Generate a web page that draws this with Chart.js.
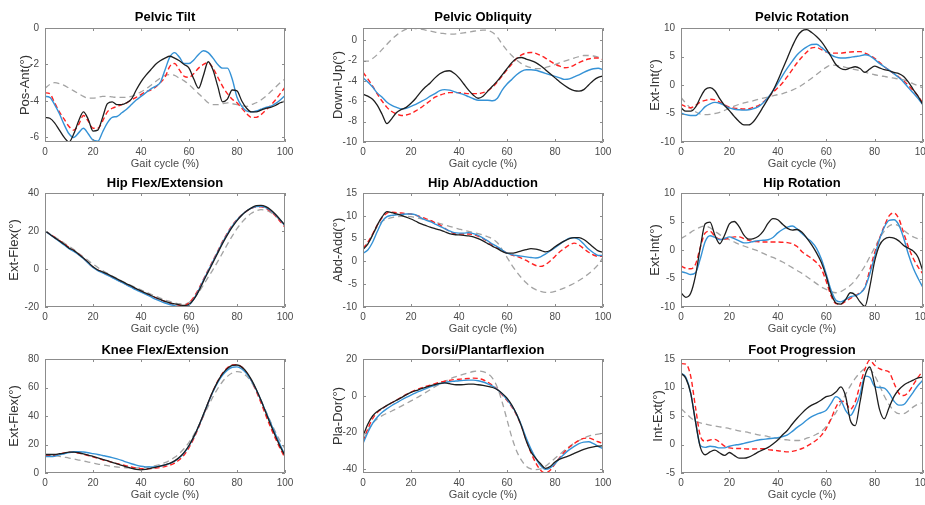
<!DOCTYPE html>
<html>
<head>
<meta charset="utf-8">
<script src="https://cdn.jsdelivr.net/npm/chart.js@4.4.1/dist/chart.umd.min.js"></script>
<style>
  html, body { margin: 0; padding: 0; background: #fff; }
  #wrap { position: relative; width: 925px; height: 505px; overflow: hidden; }
  #wrap canvas { position: absolute; }
</style>
</head>
<body>
<div id="wrap"></div>
<script>
// Gait cycle samples (%)
const gait = [0,2,4,6,8,10,12,14,16,18,20,22,24,26,28,30,32,34,36,38,40,42,44,46,48,50,
  52,54,56,58,60,62,64,66,68,70,72,74,76,78,80,82,84,86,88,90,92,94,96,98,100];
const gaitTicks = [0, 20, 40, 60, 80, 100];

// Pelvic Tilt
const tiltTicks = [-6, -4, -2, 0];
const tiltBlack = [-4.9,-4.95,-5.2,-5.6,-6.0,-6.25,-5.8,-5.1,-4.6,-5.0,
  -5.65,-5.6,-4.9,-4.15,-4.05,-4.2,-4.2,-4.1,-3.9,-3.4,
  -2.95,-2.6,-2.3,-2.0,-1.8,-1.65,-1.55,-1.65,-1.8,-2.0,
  -2.2,-2.8,-3.3,-2.6,-1.85,-2.3,-3.2,-4.05,-3.9,-3.4,
  -3.45,-4.0,-4.4,-4.6,-4.6,-4.5,-4.4,-4.35,-4.25,-4.1,
  -4.0];
const tiltBlue = [-3.75,-3.8,-4.2,-4.7,-5.3,-5.8,-6.0,-5.75,-5.5,-5.8,
  -6.15,-6.2,-5.7,-5.2,-4.9,-4.85,-4.65,-4.45,-4.2,-3.95,
  -3.75,-3.55,-3.35,-3.2,-3.0,-2.3,-1.6,-1.35,-1.6,-1.95,
  -1.95,-1.75,-1.45,-1.25,-1.35,-1.65,-2.0,-2.2,-2.2,-2.8,
  -3.8,-4.3,-4.55,-4.6,-4.55,-4.45,-4.35,-4.3,-4.15,-3.95,
  -3.7];
const tiltRed = [-3.55,-3.6,-4.1,-4.6,-5.0,-5.4,-5.6,-5.3,-4.8,-5.1,
  -5.5,-5.5,-5.1,-4.6,-4.4,-4.3,-4.2,-4.1,-3.95,-3.8,
  -3.65,-3.5,-3.4,-3.25,-3.0,-2.7,-2.1,-1.95,-2.3,-2.65,
  -2.7,-2.5,-2.2,-2.0,-1.9,-2.2,-2.7,-3.2,-3.6,-3.9,
  -4.1,-4.4,-4.7,-4.9,-4.9,-4.75,-4.5,-4.25,-3.95,-3.6,
  -3.25];
const tiltGray = [-3.3,-3.1,-3.0,-3.05,-3.15,-3.3,-3.45,-3.6,-3.75,-3.85,
  -3.85,-3.8,-3.75,-3.75,-3.78,-3.8,-3.8,-3.8,-3.75,-3.65,
  -3.5,-3.35,-3.15,-2.95,-2.75,-2.6,-2.55,-2.6,-2.75,-2.9,
  -3.1,-3.35,-3.6,-3.85,-4.1,-4.2,-4.2,-4.15,-4.1,-4.15,
  -4.2,-4.25,-4.3,-4.2,-4.1,-3.95,-3.75,-3.5,-3.25,-3.0,
  -2.8];

// Pelvic Obliquity
const oblTicks = [-10, -8, -6, -4, -2, 0];
const oblBlack = [-5.3,-5.5,-5.8,-6.4,-7.3,-8.2,-7.7,-7.1,-6.8,-6.6,
  -6.2,-5.7,-5.1,-4.6,-4.2,-3.7,-3.3,-3.05,-3.0,-3.25,
  -3.7,-4.3,-4.9,-5.4,-5.7,-5.5,-5.0,-4.5,-4.0,-3.4,
  -2.8,-2.2,-1.8,-1.7,-1.85,-2.0,-2.2,-2.5,-2.9,-3.3,
  -3.7,-4.1,-4.45,-4.75,-4.95,-5.0,-4.85,-4.4,-3.95,-3.65,
  -3.5];
const oblBlue = [-3.7,-4.1,-4.6,-5.2,-5.6,-6.1,-6.4,-6.6,-6.75,-6.7,
  -6.5,-6.3,-6.05,-5.8,-5.5,-5.25,-4.95,-4.85,-4.9,-5.05,
  -5.2,-5.35,-5.55,-5.75,-5.9,-5.9,-5.9,-5.95,-5.7,-4.9,
  -4.3,-3.85,-3.4,-3.05,-2.9,-2.9,-2.95,-3.1,-3.25,-3.4,
  -3.55,-3.7,-3.85,-3.8,-3.6,-3.4,-3.15,-2.95,-2.8,-2.75,
  -2.9];
const oblRed = [-3.15,-3.8,-4.5,-5.3,-6.0,-6.6,-7.0,-7.25,-7.4,-7.35,
  -7.2,-6.95,-6.65,-6.3,-5.95,-5.6,-5.4,-5.25,-5.15,-5.15,
  -5.15,-5.2,-5.25,-5.25,-5.25,-5.15,-4.95,-4.6,-4.1,-3.5,
  -2.9,-2.35,-1.8,-1.45,-1.25,-1.2,-1.3,-1.5,-1.75,-2.05,
  -2.35,-2.55,-2.7,-2.65,-2.45,-2.2,-2.0,-1.85,-1.75,-1.75,
  -1.9];
const oblGray = [-2.05,-2.05,-1.8,-1.4,-0.9,-0.4,0.1,0.5,0.85,1.1,
  1.2,1.15,1.1,1.0,0.9,0.8,0.7,0.65,0.6,0.6,
  0.65,0.72,0.8,0.88,0.95,1.0,0.95,0.75,0.3,-0.4,
  -1.0,-1.5,-1.95,-2.3,-2.55,-2.7,-2.8,-2.8,-2.7,-2.55,
  -2.4,-2.2,-2.05,-1.9,-1.75,-1.6,-1.5,-1.5,-1.55,-1.65,
  -1.8];

// Pelvic Rotation
const rotTicks = [-10, -5, 0, 5, 10];
const rotBlack = [-4.0,-4.6,-4.6,-3.9,-2.2,-0.8,-0.45,-1.0,-2.4,-3.6,
  -4.5,-5.5,-6.4,-7.0,-7.0,-6.4,-5.2,-3.8,-2.4,-1.0,
  0.8,2.8,4.8,6.8,8.5,9.5,9.7,9.2,8.5,7.6,
  6.4,5.0,3.6,2.9,2.7,3.0,3.2,2.9,2.2,2.8,
  3.3,3.0,2.7,2.5,2.2,2.0,1.5,0.5,-0.8,-2.0,
  -3.5];
const rotBlue = [-4.9,-5.2,-5.35,-5.35,-4.7,-3.8,-3.3,-3.05,-3.2,-3.6,
  -4.0,-4.25,-4.35,-4.4,-4.35,-4.15,-3.8,-3.1,-2.2,-1.0,
  0.3,1.7,3.0,4.2,5.3,6.1,6.7,7.1,7.15,6.6,
  5.9,5.3,4.9,4.75,4.75,4.85,5.0,5.1,5.3,5.1,
  4.5,3.8,3.2,2.6,2.0,1.3,0.5,-0.5,-1.4,-2.4,
  -3.5];
const rotRed = [-3.4,-3.8,-4.0,-3.6,-3.0,-2.7,-2.5,-2.6,-3.0,-3.5,
  -3.9,-4.05,-4.15,-4.2,-4.15,-3.9,-3.6,-3.0,-2.2,-1.3,
  -0.5,0.4,1.5,2.7,3.9,4.9,5.8,6.5,6.6,6.2,
  5.8,5.6,5.6,5.6,5.7,5.8,5.85,5.85,5.6,5.2,
  4.7,4.0,3.2,2.6,2.0,1.4,0.7,-0.1,-1.0,-2.0,
  -3.2];
const rotGray = [-2.2,-3.2,-4.1,-4.7,-5.1,-5.2,-5.15,-5.0,-4.8,-4.45,
  -4.05,-3.7,-3.4,-3.15,-2.95,-2.75,-2.5,-2.3,-2.1,-1.9,
  -1.7,-1.5,-1.25,-0.9,-0.5,0.0,0.6,1.2,1.85,2.5,
  3.1,3.5,3.45,3.3,3.1,2.9,2.7,2.5,2.25,2.0,
  1.8,1.65,1.5,1.35,1.2,1.05,0.9,0.6,0.2,-0.15,
  -0.5];

// Hip Flex/Extension
const hipFlexTicks = [-20, 0, 20, 40];
const hipFlexBlack = [20,18.3,16.5,14.8,13,11,9.8,7.8,5.8,3.5,
  1.2,-0.5,-1.5,-2.6,-3.9,-5.2,-6.5,-7.8,-9.0,-10.3,
  -11.5,-12.7,-13.8,-15.0,-16.0,-17.0,-17.8,-18.4,-18.9,-19.2,
  -18.7,-16.0,-11.8,-6.5,-1.5,3.5,8.5,13.5,18.0,22.0,
  25.5,28.3,30.5,32.2,33.3,33.5,32.8,31.2,28.8,26.0,
  23.0];
const hipFlexBlue = [20,18.2,16.3,14.5,12.6,10.7,9.3,7.5,5.5,3.0,
  0.8,-0.8,-2.0,-3.2,-4.5,-5.8,-7.1,-8.4,-9.7,-11.0,
  -12.2,-13.4,-14.6,-15.8,-16.9,-17.9,-18.7,-19.3,-19.8,-20.0,
  -19.0,-15.8,-11.2,-6.0,-1.0,4.0,9.0,14.0,18.5,22.5,
  25.8,28.4,30.5,32.0,32.9,33.0,32.3,30.8,28.6,25.8,
  22.8];
const hipFlexRed = [20,18.4,16.7,15.0,13.2,11.3,9.6,7.8,5.8,3.2,
  1.0,-0.6,-1.8,-3.0,-4.3,-5.6,-6.9,-8.2,-9.4,-10.6,
  -11.8,-12.9,-14.0,-15.1,-16.2,-17.1,-17.9,-18.6,-19.1,-19.3,
  -17.8,-14.8,-10.5,-5.5,-0.5,4.5,9.5,14.5,19.0,23.0,
  26.0,28.5,30.5,31.9,32.7,32.8,32.0,30.3,28.0,25.0,
  22.0];
const hipFlexGray = [20,18.5,16.9,15.3,13.7,12.0,10.2,8.3,6.4,4.5,
  2.6,0.8,-0.8,-2.3,-3.7,-5.0,-6.3,-7.5,-8.7,-9.9,
  -11.0,-12.1,-13.2,-14.3,-15.3,-16.3,-17.1,-17.8,-18.3,-18.4,
  -17.6,-15.5,-12.3,-8.5,-4.3,-0.3,4.0,8.5,13.0,17.3,
  21.2,24.5,27.2,29.3,30.6,31.2,30.9,29.8,28.0,25.6,
  23.0];

// Hip Ab/Adduction
const hipAbTicks = [-10, -5, 0, 5, 10, 15];
const hipAbBlack = [2.6,3.8,5.8,8.0,9.8,10.9,10.7,10.4,10.1,9.7,
  9.3,8.8,8.3,7.9,7.5,7.2,6.9,6.5,6.1,5.9,
  5.8,5.7,5.6,5.4,5.0,4.5,3.9,3.3,2.8,2.2,
  1.8,1.8,2.0,2.3,2.6,2.8,2.7,2.4,2.1,2.4,
  3.2,3.9,4.5,5.0,5.2,5.2,4.8,4.0,3.1,2.3,
  2.0];
const hipAbBlue = [1.8,2.5,4.2,6.6,8.8,9.8,10.1,10.2,10.3,10.4,
  10.4,10.2,9.6,9.1,8.7,8.2,7.7,7.2,6.7,6.3,
  6.2,6.2,6.3,6.1,5.7,5.1,4.5,3.8,3.2,2.5,
  1.8,1.5,1.3,1.15,1.0,0.85,0.75,1.0,1.6,2.3,
  3.0,3.8,4.5,5.1,5.2,4.8,3.8,2.7,1.9,1.3,
  1.3];
const hipAbRed = [2.8,4.2,6.0,8.0,9.6,10.6,10.8,10.7,10.6,10.5,
  10.4,10.1,9.8,9.4,9.0,8.5,8.0,7.3,6.6,6.1,
  6.0,6.0,6.0,5.9,5.5,5.0,4.3,3.6,3.0,2.4,
  1.8,1.4,1.1,0.7,0.2,-0.4,-0.9,-1.1,-0.7,0.1,
  1.1,2.1,2.9,3.6,4.0,3.6,2.8,2.0,1.4,1.1,
  1.1];
const hipAbGray = [2.9,4.0,5.8,7.7,8.8,9.3,9.6,9.8,9.9,9.9,
  9.8,9.6,9.4,9.1,8.9,8.6,8.3,8.0,7.7,7.4,
  7.1,6.8,6.6,6.3,6.1,5.8,5.4,4.9,4.1,2.6,
  0.9,-0.8,-2.3,-3.6,-4.7,-5.6,-6.2,-6.6,-6.8,-6.8,
  -6.6,-6.2,-5.8,-5.3,-4.8,-4.2,-3.5,-2.7,-1.8,-0.7,
  0.9];

// Hip Rotation
const hipRotTicks = [-10, -5, 0, 5, 10];
const hipRotBlack = [-7.5,-8.3,-7.6,-4.5,0.5,4.6,4.9,2.6,1.1,2.6,
  4.6,5.0,4.1,2.6,1.9,2.0,2.4,3.3,4.7,5.5,
  5.3,4.5,3.8,3.5,3.6,3.1,2.1,0.9,-0.5,-2.2,
  -4.6,-7.6,-9.3,-9.5,-8.7,-7.5,-7.9,-9.1,-9.9,-6.5,
  -2.0,0.8,1.9,2.2,2.1,1.6,0.8,0.3,-0.2,-1.3,
  -3.8];
const hipRotBlue = [-3.8,-4.0,-4.3,-4.0,-1.5,1.5,2.5,2.2,1.8,2.0,
  2.3,2.0,1.6,1.25,1.3,1.5,1.65,1.7,1.8,2.2,
  3.0,3.6,4.0,4.2,3.7,2.9,2.1,1.4,0.3,-1.6,
  -4.2,-7.0,-8.8,-9.1,-8.7,-8.2,-8.0,-7.6,-6.6,-4.2,
  -1.2,1.8,4.0,5.2,5.3,4.4,2.1,-0.8,-3.2,-5.0,
  -6.6];
const hipRotRed = [-2.8,-3.2,-3.3,-2.5,0.5,3.0,3.3,2.4,1.9,1.9,
  2.1,2.3,2.3,2.0,1.7,1.5,1.45,1.4,1.4,1.4,
  1.4,1.35,1.3,1.1,0.6,-0.3,-0.9,-1.5,-2.2,-3.3,
  -5.5,-8.0,-9.4,-9.5,-9.0,-8.5,-8.0,-7.5,-6.5,-3.5,
  -0.5,2.0,4.2,6.0,6.5,5.5,3.0,0.5,-1.5,-3.0,
  -4.2];
const hipRotGray = [2.0,2.5,3.1,3.6,4.0,4.2,3.9,3.3,2.7,2.2,
  1.8,1.4,1.0,0.7,0.4,0.1,-0.2,-0.6,-1.0,-1.3,
  -1.7,-2.1,-2.6,-3.1,-3.6,-4.1,-4.7,-5.3,-5.9,-6.5,
  -6.9,-7.3,-7.5,-7.3,-6.8,-6.2,-5.3,-4.1,-2.8,-1.2,
  0.4,2.0,3.3,4.2,4.5,4.2,3.5,2.8,2.3,2.0,
  2.0];

// Knee Flex/Extension
const kneeTicks = [0, 20, 40, 60, 80];
const kneeBlack = [13,13,13,13.5,14,14.6,14.6,14.2,13.5,12.6,
  11.6,10.6,9.6,8.6,7.5,6.4,5.4,4.3,3.3,2.5,
  2.2,2.6,3.3,4.0,4.8,5.7,6.8,8.5,11.0,14.5,
  19.3,25.5,32.8,41.0,49.5,57.5,64.3,69.7,73.3,75.5,
  75.8,74.3,70.8,65.5,58.8,51.0,42.5,34.0,26.0,18.5,
  12.2];
const kneeBlue = [11.6,11.6,11.8,12.7,13.5,14.3,14.9,15.0,14.7,14.2,
  13.6,13.0,12.3,11.6,10.8,9.9,8.8,7.6,6.5,5.5,
  4.7,4.3,4.2,4.4,4.9,5.6,6.7,8.3,10.7,14.2,
  19.0,25.3,32.6,40.8,49.2,57.0,63.6,68.7,72.2,74.2,
  74.5,73.0,69.8,64.8,58.5,51.0,43.0,35.0,27.3,19.8,
  12.5];
const kneeRed = [12.3,12.3,12.5,13.2,14.0,14.6,14.5,14.0,13.2,12.3,
  11.3,10.3,9.3,8.4,7.5,6.6,5.8,5.0,4.2,3.5,
  3.1,3.0,3.1,3.4,3.8,4.5,5.5,7.0,9.3,12.8,
  17.8,24.3,32.0,40.5,49.3,57.5,64.5,70.0,73.8,75.8,
  76.0,74.3,70.5,64.8,57.5,49.3,40.5,32.0,24.3,17.0,
  10.7];
const kneeGray = [12.7,12.5,12.2,11.7,11.1,10.5,9.8,9.1,8.4,7.7,
  7.0,6.3,5.7,5.1,4.6,4.2,3.9,3.7,3.6,3.6,
  3.7,4.0,4.5,5.2,6.1,7.3,8.9,11.0,13.7,17.2,
  21.5,26.8,33.0,39.8,46.8,53.5,59.3,64.2,67.8,70.2,
  71.2,70.5,68.0,63.8,58.0,51.0,43.5,36.0,29.0,22.5,
  17.0];

// Dorsi/Plantarflexion
const dorsiTicks = [-40, -20, 0, 20];
const dorsiBlack = [-22,-15.5,-11,-8.5,-6.8,-5.2,-3.8,-2.4,-1.0,0.5,
  1.8,2.8,3.7,4.6,5.4,6.1,6.7,7.0,6.6,6.1,
  6.0,6.1,6.3,6.3,6.0,5.6,5.1,4.5,3.3,1.3,
  -1.3,-5.0,-10.0,-16.5,-24.5,-30.5,-34.0,-37.0,-39.5,-38.5,
  -36.0,-34.5,-33.5,-32.5,-31.3,-30.2,-29.2,-28.4,-27.8,-27.4,
  -27.2];
const dorsiBlue = [-26,-20,-15,-11.5,-9.0,-7.0,-5.3,-3.8,-2.3,-0.9,
  0.4,1.6,2.7,3.8,4.8,5.7,6.5,7.1,7.6,7.9,
  8.2,8.4,8.5,8.5,8.2,7.5,6.5,5.2,3.4,1.0,
  -2.0,-5.5,-10.0,-16.0,-23.0,-29.0,-34.0,-38.0,-40.0,-39.2,
  -37.0,-34.0,-31.5,-29.3,-27.5,-26.0,-25.2,-25.0,-26.0,-27.5,
  -28.8];
const dorsiRed = [-25,-18,-12.5,-9.0,-7.0,-5.3,-3.8,-2.3,-0.8,0.7,
  2.0,3.2,4.2,5.0,5.8,6.6,7.3,7.9,8.4,8.8,
  9.0,9.2,9.4,9.6,9.4,8.7,7.4,5.6,3.4,0.6,
  -2.5,-6.0,-10.5,-16.5,-24.0,-31.0,-36.5,-40.5,-42.0,-40.5,
  -37.0,-33.5,-30.5,-28.0,-26.0,-24.3,-23.2,-23.0,-23.8,-25.0,
  -26.0];
const dorsiGray = [-24,-19,-15,-12.5,-10.8,-9.5,-8.3,-7.0,-5.6,-4.2,
  -2.8,-1.4,0.1,1.7,3.3,4.9,6.4,7.8,9.0,10.1,
  11.0,11.8,12.5,13.2,13.4,13.1,12.0,9.5,4.5,-3.5,
  -13.0,-22.5,-30.0,-35.0,-38.3,-39.8,-40.2,-39.8,-38.3,-36.2,
  -34.0,-31.8,-29.6,-27.6,-25.8,-24.3,-23.0,-22.0,-21.3,-20.8,
  -20.5];

// Foot Progression
const footTicks = [-5, 0, 5, 10, 15];
const footBlack = [12.5,11.6,9.0,4.0,-0.5,-1.8,-1.3,-1.0,-1.5,-1.9,
  -1.4,-1.9,-2.4,-2.4,-2.2,-1.8,-1.3,-0.9,-0.5,0.1,
  0.8,1.7,2.5,3.6,4.6,5.5,6.3,6.9,7.3,7.8,
  8.4,8.6,9.2,10.1,8.5,4.2,3.3,7.5,12.0,13.6,
  10.5,6.2,4.5,6.5,8.4,9.6,10.4,10.9,11.3,11.7,
  11.8];
const footBlue = [12.5,11.8,9.0,4.0,-0.2,-0.5,-0.3,-0.4,-0.6,-0.6,
  -0.3,-0.1,0.0,0.2,0.4,0.6,0.8,0.9,1.0,1.1,
  1.2,1.4,1.7,2.3,3.0,3.6,4.3,4.9,5.3,5.6,
  6.0,7.2,8.4,7.8,6.0,5.1,6.5,8.8,12.0,11.8,
  10.2,10.0,9.9,9.0,7.6,6.9,7.0,8.0,9.2,10.4,
  11.3];
const footRed = [14.2,14.1,12.0,6.5,1.5,0.6,0.8,0.9,0.4,-0.3,
  -0.6,-0.7,-0.7,-0.75,-0.8,-0.8,-0.75,-0.75,-0.9,-1.0,
  -1.1,-1.2,-1.3,-1.2,-1.0,-0.7,-0.3,0.2,0.8,1.6,
  2.8,4.5,6.5,7.6,7.4,6.2,7.5,10.5,13.2,14.8,
  13.9,13.3,13.0,12.7,10.8,9.0,8.6,9.2,10.5,11.8,
  13.0];
const footGray = [6.3,5.5,4.7,4.1,3.8,3.6,3.4,3.25,3.1,2.95,
  2.8,2.6,2.4,2.25,2.1,1.9,1.7,1.55,1.4,1.2,
  1.05,0.9,0.8,0.7,0.7,0.8,1.1,1.4,1.8,2.3,
  3.2,4.4,5.6,7.2,8.8,10.3,11.6,12.6,13.3,13.2,
  12.1,10.4,8.5,7.0,5.9,5.4,5.4,5.9,6.6,7.1,
  7.3];

// Line styles: black, blue, red dashed, gray dashed
const lineColors = ["#1e1e1e", "#3592d6", "#ff2222", "#a3a3a3"];
const lineDashes = [[], [], [5, 3], [6, 4]];
const lineWidths = [1.3, 1.4, 1.4, 1.3];

const panels = [
  { title: "Pelvic Tilt", ylabel: "Pos-Ant(°)", min: -6.25, max: 0, ticks: tiltTicks,
    series: [tiltBlack, tiltBlue, tiltRed, tiltGray], row: 0, col: 0, yTitleX: 25 },
  { title: "Pelvic Obliquity", ylabel: "Down-Up(°)", min: -10, max: 1.2, ticks: oblTicks,
    series: [oblBlack, oblBlue, oblRed, oblGray], row: 0, col: 1, yTitleX: 20 },
  { title: "Pelvic Rotation", ylabel: "Ext-Int(°)", min: -10, max: 10, ticks: rotTicks,
    series: [rotBlack, rotBlue, rotRed, rotGray], row: 0, col: 2, yTitleX: 19 },
  { title: "Hip Flex/Extension", ylabel: "Ext-Flex(°)", min: -20, max: 40, ticks: hipFlexTicks,
    series: [hipFlexBlack, hipFlexBlue, hipFlexRed, hipFlexGray], row: 1, col: 0, yTitleX: 14 },
  { title: "Hip Ab/Adduction", ylabel: "Abd-Add(°)", min: -10, max: 15, ticks: hipAbTicks,
    series: [hipAbBlack, hipAbBlue, hipAbRed, hipAbGray], row: 1, col: 1, yTitleX: 20 },
  { title: "Hip Rotation", ylabel: "Ext-Int(°)", min: -10, max: 10, ticks: hipRotTicks,
    series: [hipRotBlack, hipRotBlue, hipRotRed, hipRotGray], row: 1, col: 2, yTitleX: 19 },
  { title: "Knee Flex/Extension", ylabel: "Ext-Flex(°)", min: 0, max: 80, ticks: kneeTicks,
    series: [kneeBlack, kneeBlue, kneeRed, kneeGray], row: 2, col: 0, yTitleX: 14 },
  { title: "Dorsi/Plantarflexion", ylabel: "Pla-Dor(°)", min: -42, max: 20, ticks: dorsiTicks,
    series: [dorsiBlack, dorsiBlue, dorsiRed, dorsiGray], row: 2, col: 1, yTitleX: 20 },
  { title: "Foot Progression", ylabel: "Int-Ext(°)", min: -5, max: 15, ticks: footTicks,
    series: [footBlack, footBlue, footRed, footGray], row: 2, col: 2, yTitleX: 22 },
];

// Grid placement of the canvases
const colLeft = [0, 318, 636];
const colWidth = [310, 310, 289];
const plotRight = [285, 285, 287];
const rowTop = [0, 165, 331];
const titleTop = [9, 10, 11];
const cellHeight = 172;
const plotTop = 28;
const plotHeight = 114;
const yAxisWidth = 45;

const fontFamily = "'Liberation Sans', Arial, Helvetica, sans-serif";
const tickColor = "#4a4a4a";
const boxColor = "#8c8c8c";
Chart.defaults.font.family = fontFamily;

// MATLAB-like box with inward tick marks
const boxTicks = {
  id: "boxTicks",
  afterDraw(chart) {
    const { ctx, chartArea: a, scales } = chart;
    const len = 3;
    ctx.save();
    ctx.strokeStyle = boxColor;
    ctx.lineWidth = 1;
    ctx.beginPath();
    ctx.rect(a.left + 0.5, a.top + 0.5, a.right - a.left - 1, a.bottom - a.top - 1);
    scales.x.ticks.forEach((t) => {
      const px = Math.round(scales.x.getPixelForValue(t.value)) + 0.5;
      ctx.moveTo(px, a.bottom); ctx.lineTo(px, a.bottom - len);
      ctx.moveTo(px, a.top); ctx.lineTo(px, a.top + len);
    });
    scales.y.ticks.forEach((t) => {
      const py = Math.round(scales.y.getPixelForValue(t.value)) + 0.5;
      ctx.moveTo(a.left, py); ctx.lineTo(a.left + len, py);
      ctx.moveTo(a.right, py); ctx.lineTo(a.right - len, py);
    });
    ctx.stroke();
    ctx.restore();
  },
};

const wrap = document.getElementById("wrap");

panels.forEach((p) => {
  const canvas = document.createElement("canvas");
  canvas.width = colWidth[p.col];
  canvas.height = cellHeight;
  canvas.style.left = colLeft[p.col] + "px";
  canvas.style.top = rowTop[p.row] + "px";
  wrap.appendChild(canvas);

  new Chart(canvas, {
    type: "line",
    data: {
      labels: gait,
      datasets: p.series.map((s, i) => ({
        data: s,
        borderColor: lineColors[i],
        borderDash: lineDashes[i],
        borderWidth: lineWidths[i],
        pointRadius: 0,
        fill: false,
        cubicInterpolationMode: "monotone",
      })),
    },
    options: {
      responsive: false,
      animation: false,
      devicePixelRatio: 1,
      layout: { padding: { left: 0, top: 0, bottom: 0, right: colWidth[p.col] - plotRight[p.col] } },
      plugins: {
        legend: { display: false },
        tooltip: { enabled: false },
        title: {
          display: true,
          text: p.title,
          fullSize: false,
          color: "#000",
          font: { size: 13, weight: "bold", lineHeight: "16px" },
          padding: { top: titleTop[p.row], bottom: 12 - titleTop[p.row] },
        },
      },
      scales: {
        x: {
          type: "linear",
          min: 0,
          max: 100,
          grid: { display: false, drawTicks: false },
          border: { display: false },
          afterBuildTicks: (s) => { s.ticks = gaitTicks.map((v) => ({ value: v })); },
          afterFit: (s) => {
            s.height = cellHeight - plotTop - plotHeight;
            s.paddingLeft = 0;
            s.paddingRight = 0;
          },
          ticks: { autoSkip: false, maxRotation: 0, padding: 4, color: tickColor, font: { size: 10 } },
          title: {
            display: true, text: "Gait cycle (%)", color: tickColor,
            font: { size: 11 }, padding: { top: 0, bottom: 1 },
          },
        },
        y: {
          type: "linear",
          min: p.min,
          max: p.max,
          grid: { display: false, drawTicks: false },
          border: { display: false },
          afterBuildTicks: (s) => { s.ticks = p.ticks.map((v) => ({ value: v })); },
          afterFit: (s) => {
            s.width = yAxisWidth;
            s.paddingTop = 0;
            s.paddingBottom = 0;
          },
          ticks: { autoSkip: false, padding: 6, color: tickColor, font: { size: 10 } },
          title: {
            display: true, text: p.ylabel, color: "#333",
            font: { size: 13 }, padding: { top: p.yTitleX - 7.8, bottom: 0 },
          },
        },
      },
    },
    plugins: [boxTicks],
  });
});
</script>
</body>
</html>
